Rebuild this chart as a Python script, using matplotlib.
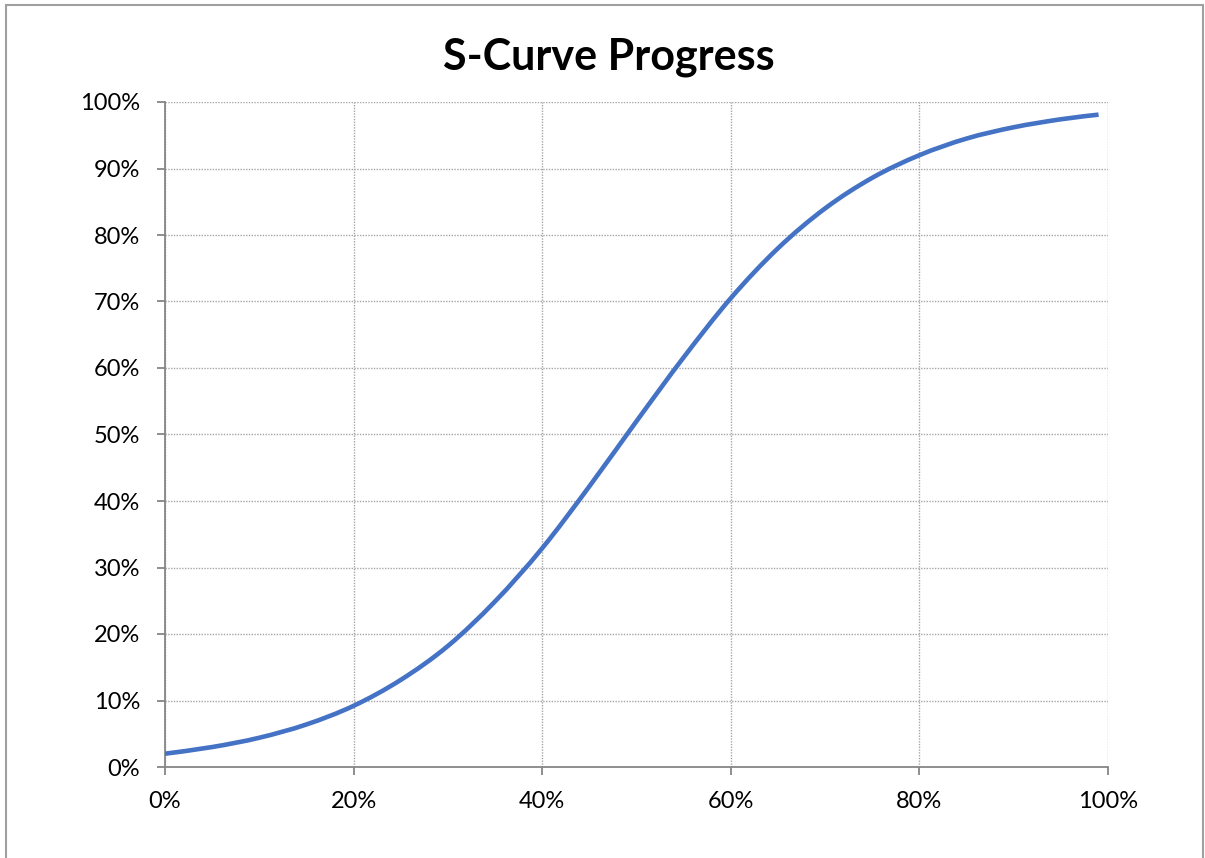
import matplotlib
matplotlib.use("Agg")
import matplotlib.pyplot as plt
from matplotlib.path import Path
from matplotlib.patches import PathPatch, Rectangle
from matplotlib.ticker import PercentFormatter, MultipleLocator

# Cumulative progress (fraction complete) against elapsed time (fraction of schedule)
time_frac = [0.00, 0.05, 0.10, 0.15, 0.20, 0.25, 0.30, 0.35, 0.40, 0.45, 0.50,
             0.55, 0.60, 0.65, 0.70, 0.75, 0.80, 0.85, 0.90, 0.95, 0.99]
progress = [0.020, 0.030, 0.044, 0.064, 0.092, 0.131, 0.182, 0.249, 0.329, 0.422, 0.520,
            0.616, 0.705, 0.780, 0.840, 0.886, 0.920, 0.945, 0.962, 0.974, 0.981]

title = "S-Curve Progress"
line_color = "#4472C4"
grid_color = "#A6A6A6"
axis_color = "#868686"

plt.rcParams["font.family"] = ["Lato", "DejaVu Sans"]

W, H, DPI = 1205, 858, 100
fig = plt.figure(figsize=(W / DPI, H / DPI), dpi=DPI)
ax = fig.add_axes([165 / W, (H - 767) / H, (1108 - 165) / W, (767 - 102) / H])


def smooth_path(xs, ys, tension=1 / 6):
    """Cubic Bezier path through the points (Catmull-Rom style smoothing)."""
    pts = list(zip(xs, ys))
    verts = [pts[0]]
    codes = [Path.MOVETO]
    n = len(pts)
    for i in range(n - 1):
        p0 = pts[i - 1] if i > 0 else pts[i]
        p1 = pts[i]
        p2 = pts[i + 1]
        p3 = pts[i + 2] if i + 2 < n else pts[i + 1]
        c1 = (p1[0] + (p2[0] - p0[0]) * tension, p1[1] + (p2[1] - p0[1]) * tension)
        c2 = (p2[0] - (p3[0] - p1[0]) * tension, p2[1] - (p3[1] - p1[1]) * tension)
        verts += [c1, c2, p2]
        codes += [Path.CURVE4] * 3
    return Path(verts, codes)


ax.add_patch(PathPatch(smooth_path(time_frac, progress), facecolor="none",
                       edgecolor=line_color, lw=3.3, capstyle="butt", zorder=3))

ax.set_xlim(0, 1)
ax.set_ylim(0, 1)
ax.xaxis.set_major_locator(MultipleLocator(0.2))
ax.yaxis.set_major_locator(MultipleLocator(0.1))
ax.xaxis.set_major_formatter(PercentFormatter(1.0, decimals=0))
ax.yaxis.set_major_formatter(PercentFormatter(1.0, decimals=0))

ax.grid(True, color=grid_color, linestyle=(0, (1, 1)), linewidth=1.0, zorder=1)
ax.set_axisbelow(True)

for side in ("top", "right"):
    ax.spines[side].set_visible(False)
for side in ("left", "bottom"):
    ax.spines[side].set_color(axis_color)
    ax.spines[side].set_linewidth(1.3)
    ax.spines[side].set_zorder(2)

ax.tick_params(axis="both", direction="out", length=6, width=1.3, color=axis_color,
               labelsize=17, labelcolor="black")
ax.tick_params(axis="y", pad=12)
ax.tick_params(axis="x", pad=11)

fig.text(0.505, (H - 57) / H, title, ha="center", va="center",
         fontsize=31, fontweight="bold", color="black")

# thin outer frame of the chart area (open at the bottom edge)
fig.patches.append(Rectangle((6 / W, -0.05), (W - 8) / W, 1.05 - 5 / H,
                             transform=fig.transFigure, fill=False,
                             edgecolor="#A0A0A0", linewidth=1.5))

fig.savefig("out.png", dpi=DPI)
